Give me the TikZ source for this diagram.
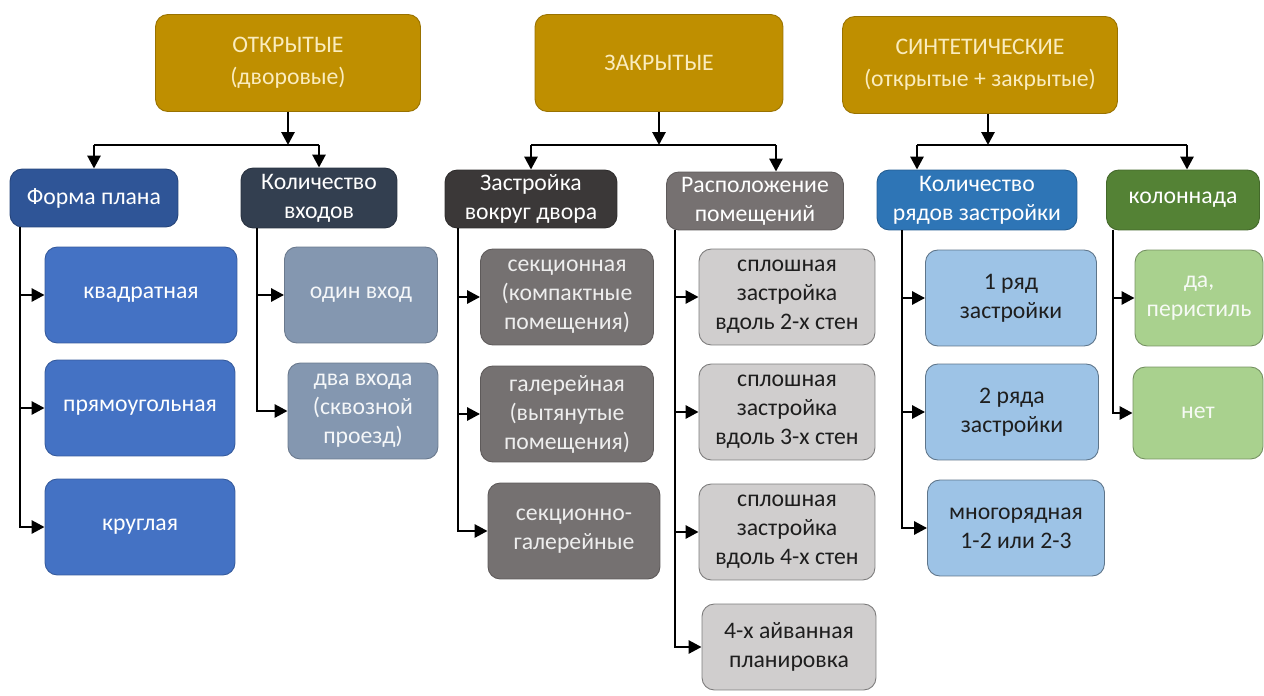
\documentclass[tikz,border=0pt]{standalone}
\usepackage{fontspec}
\setmainfont{Carlito}
\usepackage{xcolor}
\usetikzlibrary{arrows.meta,positioning,calc}

\definecolor{gold}{RGB}{191,143,0}
\definecolor{goldtext}{RGB}{250,236,190}
\definecolor{formablue}{RGB}{47,85,151}
\definecolor{slate}{RGB}{51,63,80}
\definecolor{zastrgray}{RGB}{59,56,56}
\definecolor{raspgray}{RGB}{118,113,113}
\definecolor{ryadblue}{RGB}{46,117,182}
\definecolor{kolongreen}{RGB}{84,130,53}
\definecolor{kvblue}{RGB}{68,114,196}
\definecolor{vhodgray}{RGB}{132,151,176}
\definecolor{sekgray}{RGB}{117,113,113}
\definecolor{sploshgray}{RGB}{208,206,206}
\definecolor{ryadlight}{RGB}{157,195,230}
\definecolor{dagreen}{RGB}{169,209,142}
\definecolor{darktext}{RGB}{30,30,30}

\tikzset{
  box/.style={rounded corners=7pt,align=center,inner sep=2pt,line width=0.5pt,
    font=\fontsize{13.5}{16.5}\selectfont},
  topbox/.style={box,fill=gold,draw=gold!80!black,text=goldtext,
    minimum height=1.94cm,font=\fontsize{13.5}{18}\selectfont},
  midbox/.style={box,minimum height=1.16cm},
  leafbox/.style={box,minimum height=1.92cm},
  line/.style={line width=1.6pt,black},
  arr/.style={line,-{Triangle[length=2.6mm,width=2.6mm]}}
}

\begin{document}
\begin{tikzpicture}[x=0.02cm,y=-0.02cm]
\useasboundingbox (0,0) rectangle (1264,696);

% top row
\node[topbox,minimum width=5.3cm] (open) at (288,63) {ОТКРЫТЫЕ\\(дворовые)};
\node[topbox,minimum width=4.96cm] (closed) at (659,63) {ЗАКРЫТЫЕ};
\node[topbox,minimum width=5.5cm] (synth) at (980,65) {СИНТЕТИЧЕСКИЕ\\(открытые + закрытые)};

% second row
\node[midbox,fill=formablue,draw=formablue!80!black,text=white,minimum width=3.36cm] (forma) at (94,198) {Форма плана};
\node[midbox,fill=slate,draw=slate!80!black,text=white,minimum width=3.12cm,minimum height=1.2cm] (vhod) at (319,198) {Количество\\входов};
\node[midbox,fill=zastrgray,draw=zastrgray!80!black,text=white,minimum width=3.44cm] (zastr) at (531,199) {Застройка\\вокруг двора};
\node[midbox,fill=raspgray,draw=raspgray!80!black,text=white,minimum width=3.54cm] (rasp) at (755,201) {Расположение\\помещений};
\node[midbox,fill=ryadblue,draw=ryadblue!80!black,text=white,minimum width=4.0cm,minimum height=1.2cm] (ryad) at (977,200) {Количество\\рядов застройки};
\node[midbox,fill=kolongreen,draw=kolongreen!80!black,text=white,minimum width=3.06cm,minimum height=1.2cm] (kolon) at (1183,200) {колоннада};

% leaves
\node[leafbox,fill=kvblue,draw=kvblue!80!black,text=white,minimum width=3.84cm] (kv) at (141,295) {квадратная};
\node[leafbox,fill=kvblue,draw=kvblue!80!black,text=white,minimum width=3.8cm] (pr) at (140,408) {прямоугольная};
\node[leafbox,fill=kvblue,draw=kvblue!80!black,text=white,minimum width=3.8cm] (kr) at (140,527) {круглая};

\node[leafbox,fill=vhodgray,draw=vhodgray!80!black,text=white!92!vhodgray,minimum width=3.06cm] (odin) at (361,295) {один вход};
\node[leafbox,fill=vhodgray,draw=vhodgray!80!black,text=white!92!vhodgray,minimum width=3.0cm] (dva) at (363,411) {два входа\\(сквозной\\проезд)};

\node[leafbox,fill=sekgray,draw=sekgray!80!black,text=white!88!sekgray,minimum width=3.46cm] (sek) at (567,297) {секционная\\(компактные\\помещения)};
\node[leafbox,fill=sekgray,draw=sekgray!80!black,text=white!88!sekgray,minimum width=3.46cm] (gal) at (567,414) {галерейная\\(вытянутые\\помещения)};
\node[leafbox,fill=sekgray,draw=sekgray!80!black,text=white!88!sekgray,minimum width=3.44cm] (sg) at (574,531) {секционно-\\галерейные};

\node[leafbox,fill=sploshgray,draw=sploshgray!60!black,text=darktext,minimum width=3.52cm] (sp2) at (787,297) {сплошная\\застройка\\вдоль 2-х стен};
\node[leafbox,fill=sploshgray,draw=sploshgray!60!black,text=darktext,minimum width=3.52cm] (sp3) at (787,412) {сплошная\\застройка\\вдоль 3-х стен};
\node[leafbox,fill=sploshgray,draw=sploshgray!60!black,text=darktext,minimum width=3.52cm] (sp4) at (787,532) {сплошная\\застройка\\вдоль 4-х стен};
\node[leafbox,fill=sploshgray,draw=sploshgray!60!black,text=darktext,minimum width=3.48cm,minimum height=1.72cm] (aiv) at (789,647) {4-х айванная\\планировка};

\node[leafbox,fill=ryadlight,draw=ryadlight!60!black,text=darktext,minimum width=3.42cm] (r1) at (1011,298) {1 ряд\\застройки};
\node[leafbox,fill=ryadlight,draw=ryadlight!60!black,text=darktext,minimum width=3.46cm] (r2) at (1012,412) {2 ряда\\застройки};
\node[leafbox,fill=ryadlight,draw=ryadlight!60!black,text=darktext,minimum width=3.54cm] (rm) at (1016,528) {многорядная\\1-2 или 2-3};

\node[leafbox,fill=dagreen,draw=dagreen!70!black,text=white!90!dagreen,minimum width=2.56cm] (da) at (1199,298) {да,\\перистиль};
\node[leafbox,fill=dagreen,draw=dagreen!70!black,text=white!90!dagreen,minimum width=2.6cm,minimum height=1.84cm] (net) at (1198,413) {нет};

% junctions under the top row
\coordinate (jo) at (open.south |- 0,145);
\coordinate (jc) at (closed.south |- 0,145);
\coordinate (js) at (synth.south -| 988,0);
\coordinate (jsb) at (988,145);
\coordinate (jc2) at (776,145);
\coordinate (js1) at (917,145);
\coordinate (js2) at (1187,145);

\draw[arr] (open.south) -- (jo);
\draw[line] (forma.north |- jo) -- (vhod.north |- jo);
\draw[arr] (forma.north |- jo) -- (forma.north);
\draw[arr] (vhod.north |- jo) -- (vhod.north);

\draw[arr] (closed.south) -- (jc);
\draw[line] (zastr.north |- jc) -- (jc2);
\draw[arr] (zastr.north |- jc) -- (zastr.north);
\draw[arr] (jc2) -- (rasp.north -| jc2);

\draw[arr] (js) -- (jsb);
\draw[line] (js1) -- (js2);
\draw[arr] (js1) -- (ryad.north -| js1);
\draw[arr] (js2) -- (kolon.north -| js2);

% spines
\coordinate (s1) at (forma.south -| 20,0);
\coordinate (s2) at (vhod.south -| 257,0);
\coordinate (s3) at (zastr.south -| 458,0);
\coordinate (s4) at (rasp.south -| 675,0);
\coordinate (s5) at (ryad.south -| 902,0);
\coordinate (s6) at (kolon.south -| 1113,0);

\foreach \c in {kv,pr,kr} \draw[arr] (s1) |- (\c.west);
\foreach \c in {odin,dva} \draw[arr] (s2) |- (\c.west);
\foreach \c in {sek,gal,sg} \draw[arr] (s3) |- (\c.west);
\foreach \c in {sp2,sp3,sp4,aiv} \draw[arr] (s4) |- (\c.west);
\foreach \c in {r1,r2,rm} \draw[arr] (s5) |- (\c.west);
\foreach \c in {da,net} \draw[arr] (s6) |- (\c.west);
\end{tikzpicture}
\end{document}
